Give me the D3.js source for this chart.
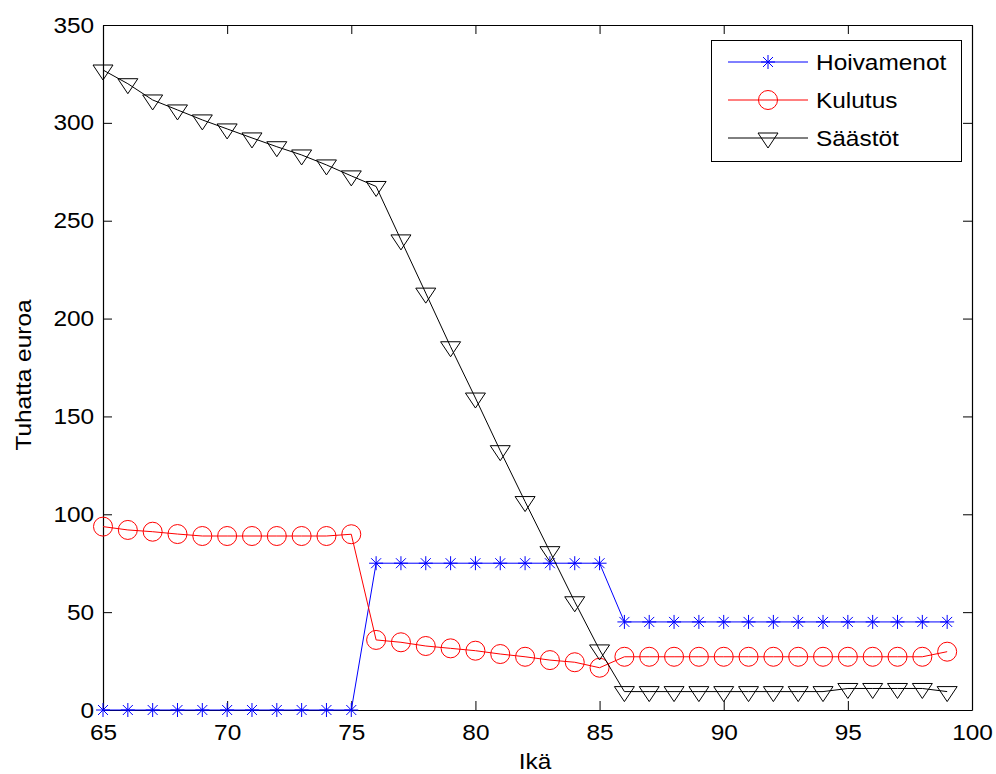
<!DOCTYPE html>
<html>
<head>
<meta charset="utf-8">
<script src="https://cdn.jsdelivr.net/npm/d3@7"></script>
<style>
  html, body { margin: 0; padding: 0; background: #fff; }
  svg { display: block; font-family: "Liberation Sans", Arial, sans-serif; }
</style>
</head>
<body>
<svg id="chart" width="996" height="774"></svg>
<script>
const ages = d3.range(65, 100);
const hoivamenot = [0,0,0,0,0,0,0,0,0,0,0, 75,75,75,75,75,75,75,75,75,75, 45,45,45,45,45,45,45,45,45,45,45,45,45,45];
const kulutus = [93.7,92,91.1,89.9,88.9,88.9,88.9,88.9,88.9,88.9,89.8, 35.8,34.6,32.7,31.5,30.3,28.6,27.2,25.5,24.4,21.6, 27.2,27.2,27.2,27.2,27.2,27.2,27.2,27.2,27.2,27.2,27.2,27.2,27.2,29.8];
const saastot = [327,320,311.7,306.6,301.5,296.9,292.3,287.8,283.6,278.5,272.9, 267.5,240.2,213,185.6,159.4,132.5,106.5,80.9,55.3,30.7, 9.4,9.4,9.4,9.4,9.4,9.4,9.4,9.4,9.4, 11,11,11,11, 9.4];
const seriesNames = ["Hoivamenot", "Kulutus", "Säästöt"];
const xTicks = [65,70,75,80,85,90,95,100];
const yTicks = [0,50,100,150,200,250,300,350];
const xLabel = "Ikä";
const yLabel = "Tuhatta euroa";

const L = 103, R = 972, T = 25, B = 710;
const SX = 1.11; // horizontal stretch of text, as in the reference
const svg = d3.select("#chart");
const x = d3.scaleLinear().domain([65, 100]).range([L, R]);
const y = d3.scaleLinear().domain([0, 350]).range([B, T]);

const tickLen = 9;
const xAxis = d3.axisBottom(x).tickValues(xTicks).tickSizeInner(-tickLen).tickSizeOuter(0).tickPadding(14);
const yAxis = d3.axisLeft(y).tickValues(yTicks).tickSizeInner(-tickLen).tickSizeOuter(0).tickPadding(8);
const xTop = d3.axisTop(x).tickValues(xTicks).tickSizeInner(-tickLen).tickSizeOuter(0).tickFormat("");
const yRight = d3.axisRight(y).tickValues(yTicks).tickSizeInner(-tickLen).tickSizeOuter(0).tickFormat("");

function style(g) {
  g.selectAll("path.domain").attr("stroke", "#000").attr("stroke-width", 1.2);
  g.selectAll(".tick line").attr("stroke", "#000").attr("stroke-width", 1);
  g.selectAll(".tick text").attr("fill", "#000").style("font-size", "22px")
    .style("font-family", "Liberation Sans, Arial, sans-serif")
    .attr("transform", `scale(${SX},1)`);
}
svg.append("g").attr("transform", `translate(0,${B})`).call(xAxis).call(style);
svg.append("g").attr("transform", `translate(${L},0)`).call(yAxis).call(style);
svg.append("g").attr("transform", `translate(0,${T})`).call(xTop).call(style);
svg.append("g").attr("transform", `translate(${R},0)`).call(yRight).call(style);

// axis labels
svg.append("text").attr("transform", `translate(${535},769) scale(${SX},1)`).attr("text-anchor", "middle")
  .style("font-size", "22px").text(xLabel);
svg.append("text").attr("transform", `translate(31,375) rotate(-90) scale(${SX},1)`).attr("text-anchor", "middle")
  .style("font-size", "22px").text(yLabel);

const series = [
  { name: seriesNames[0], vals: hoivamenot, color: "#0000ff", marker: "star" },
  { name: seriesNames[1], vals: kulutus, color: "#ff0000", marker: "circle" },
  { name: seriesNames[2], vals: saastot, color: "#000000", marker: "tri" }
];

const line = d3.line().x(d => x(d[0])).y(d => y(d[1]));

function drawMarker(g, type, color) {
  if (type === "star") {
    const s = 7, d = 5;
    g.append("path").attr("d", `M${-s},0L${s},0M0,${-s}L0,${s}M${-d},${-d}L${d},${d}M${-d},${d}L${d},${-d}`)
      .attr("stroke", color).attr("stroke-width", 1).attr("fill", "none");
  } else if (type === "circle") {
    g.append("circle").attr("r", 9.5).attr("fill", "none").attr("stroke", color).attr("stroke-width", 1);
  } else {
    g.append("path").attr("d", "M-10,-5L10,-5L0,10Z").attr("fill", "none").attr("stroke", color).attr("stroke-width", 1);
  }
}

const plot = svg.append("g");
series.forEach(s => {
  const pts = ages.map((a, i) => [a, s.vals[i]]);
  plot.append("path").attr("d", line(pts)).attr("fill", "none").attr("stroke", s.color).attr("stroke-width", 1);
  pts.forEach(p => {
    const g = plot.append("g").attr("transform", `translate(${x(p[0])},${y(p[1])})`);
    drawMarker(g, s.marker, s.color);
  });
});

// legend
const lg = svg.append("g");
lg.append("rect").attr("x", 711.5).attr("y", 40.5).attr("width", 250).attr("height", 121)
  .attr("fill", "#fff").attr("stroke", "#000").attr("stroke-width", 1);
const rowY = [62, 100, 138];
series.forEach((s, i) => {
  lg.append("line").attr("x1", 728).attr("x2", 808).attr("y1", rowY[i]).attr("y2", rowY[i])
    .attr("stroke", s.color).attr("stroke-width", 1);
  const g = lg.append("g").attr("transform", `translate(768,${rowY[i]})`);
  drawMarker(g, s.marker, s.color);
  lg.append("text").attr("transform", `translate(816,${rowY[i]}) scale(${SX},1)`).attr("dy", "0.36em")
    .style("font-size", "22px").text(s.name);
});
</script>
</body>
</html>
